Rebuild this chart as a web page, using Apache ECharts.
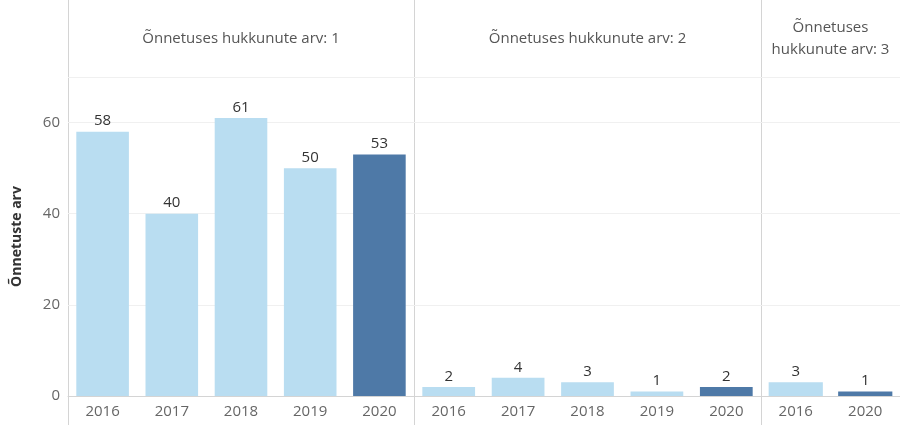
<!DOCTYPE html>
<html><head><meta charset="utf-8">
<script src="https://cdn.jsdelivr.net/npm/echarts@6/dist/echarts.min.js"></script>
<style>body{margin:0}#c{width:900px;height:425px}</style></head>
<body><div id="c"></div>
<script>
var panelTitles = ['Õnnetuses hukkunute arv: 1', 'Õnnetuses hukkunute arv: 2', 'Õnnetuses\nhukkunute arv: 3'];
var years1 = ['2016', '2017', '2018', '2019', '2020'];
var values1 = [58, 40, 61, 50, 53];
var years2 = ['2016', '2017', '2018', '2019', '2020'];
var values2 = [2, 4, 3, 1, 2];
var years3 = ['2016', '2020'];
var values3 = [3, 1];
var yTicks = [0, 20, 40, 60];

var chart = echarts.init(document.getElementById('c'));
var panels = [[68, 346], [414, 347], [761, 139]];
var cats = [years1, years2, years3];
var vals = [values1, values2, values3];
var light = '#b9ddf1', dark = '#4e79a7', line = '#d4d4d4';

var grid = [], xAxis = [], yAxis = [], series = [], graphic = [];
panels.forEach(function (p, i) {
  grid.push({left: p[0], width: p[1], top: 77, height: 319});
  xAxis.push({type: 'category', gridIndex: i, data: cats[i],
    axisLine: {lineStyle: {color: line}}, axisTick: {show: false},
    axisLabel: {color: '#666', fontSize: 15, margin: 8, fontFamily: 'Open Sans'}});
  yAxis.push({type: 'value', gridIndex: i, min: 0, max: 70, interval: 20,
    name: i === 0 ? 'Õnnetuste arv' : '', nameLocation: 'middle', nameGap: 44,
    nameTextStyle: {color: '#333', fontSize: 14, fontWeight: 'bold', fontFamily: 'Open Sans'},
    axisLabel: {show: i === 0, color: '#666', fontSize: 15, fontFamily: 'Open Sans',
      formatter: function (v) { return yTicks.indexOf(v) >= 0 ? v : ''; }},
    axisLine: {show: false}, axisTick: {show: false},
    splitLine: {lineStyle: {color: '#f0f0f0'}}});
  series.push({type: 'bar', xAxisIndex: i, yAxisIndex: i, barCategoryGap: i === 2 ? '22%' : '24%',
    data: vals[i].map(function (v, j) {
      return {value: v, itemStyle: {color: cats[i][j] === '2020' ? dark : light}};
    }),
    label: {show: true, position: 'top', color: '#333', fontSize: 15, fontFamily: 'Open Sans', distance: 3}});
  graphic.push({type: 'text', left: p[0], top: 0, style: {
    text: panelTitles[i], x: p[1] / 2, y: 39, align: 'center', verticalAlign: 'middle',
    fill: '#555', fontSize: 15, lineHeight: 22, fontFamily: 'Open Sans'}, position: [p[0], 0]});
});
graphic = graphic.map(function (g) {
  return {type: 'text', x: g.position[0] + g.style.x, y: g.style.y, style: {
    text: g.style.text, align: 'center', verticalAlign: 'middle', fill: '#555',
    fontSize: 15, lineHeight: 22, fontFamily: 'Open Sans'}};
});
[68, 414, 761].forEach(function (x) {
  graphic.push({type: 'line', shape: {x1: x + 0.5, y1: 0, x2: x + 0.5, y2: 425}, style: {stroke: line}});
});
graphic.push({type: 'line', shape: {x1: 68, y1: 77.5, x2: 900, y2: 77.5}, style: {stroke: line}});

chart.setOption({animation: false, grid: grid, xAxis: xAxis, yAxis: yAxis, series: series, graphic: graphic});
</script></body></html>
